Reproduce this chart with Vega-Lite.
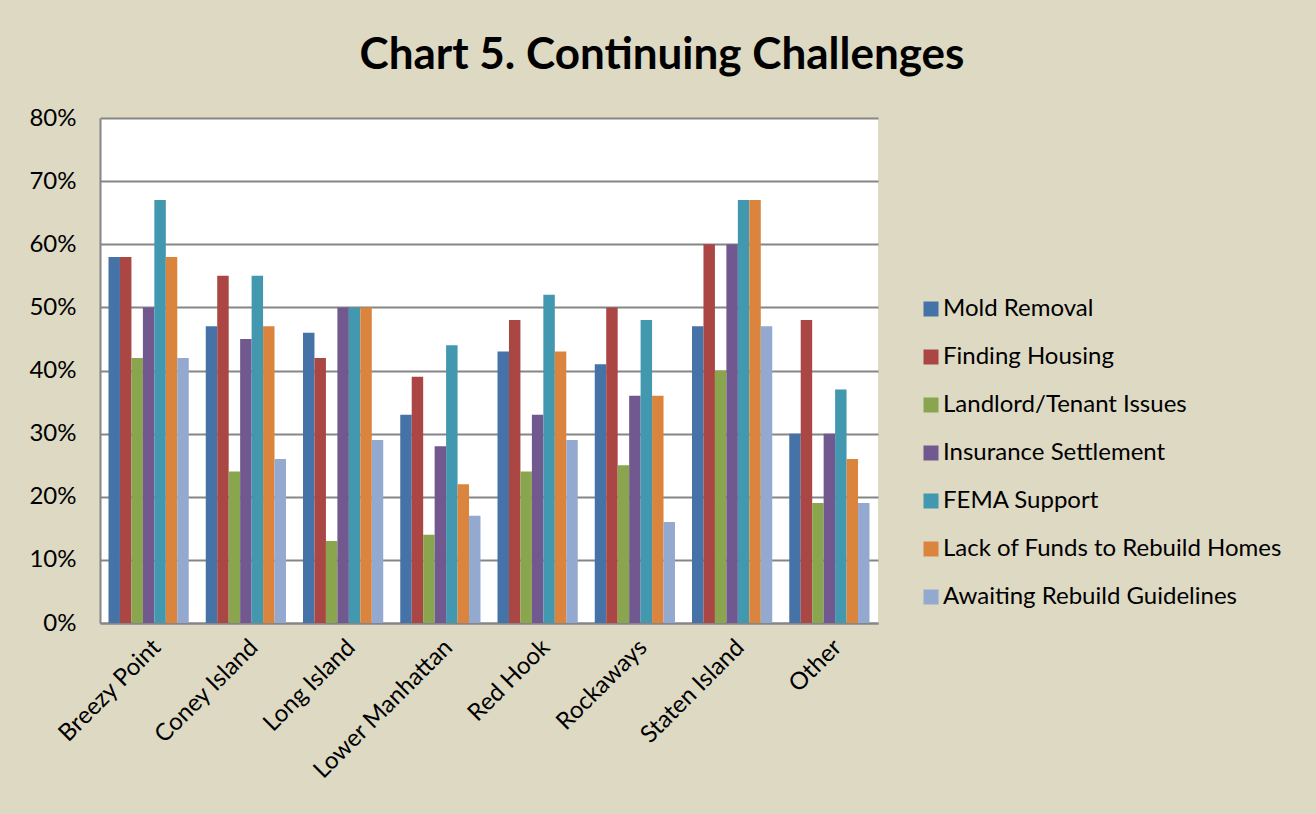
{
  "$schema": "https://vega.github.io/schema/vega-lite/v6.json",
  "autosize": {"type": "none"},
  "padding": {"left": 100, "top": 118, "right": 438, "bottom": 191},
  "width": 778,
  "height": 505,
  "background": "#DDD9C3",
  "title": {
    "text": "Chart 5. Continuing Challenges",
    "font": "Lato",
    "fontSize": 44,
    "fontWeight": "bold",
    "color": "#000000",
    "anchor": "middle",
    "dx": 173,
    "offset": 28
  },
  "config": {
    "view": {"fill": "#FFFFFF", "stroke": null},
    "font": "Lato"
  },
  "data": {
    "values": [
      {"location": "Breezy Point", "challenge": "Mold Removal", "value": 0.58},
      {"location": "Breezy Point", "challenge": "Finding Housing", "value": 0.58},
      {"location": "Breezy Point", "challenge": "Landlord/Tenant Issues", "value": 0.42},
      {"location": "Breezy Point", "challenge": "Insurance Settlement", "value": 0.50},
      {"location": "Breezy Point", "challenge": "FEMA Support", "value": 0.67},
      {"location": "Breezy Point", "challenge": "Lack of Funds to Rebuild Homes", "value": 0.58},
      {"location": "Breezy Point", "challenge": "Awaiting Rebuild Guidelines", "value": 0.42},
      {"location": "Coney Island", "challenge": "Mold Removal", "value": 0.47},
      {"location": "Coney Island", "challenge": "Finding Housing", "value": 0.55},
      {"location": "Coney Island", "challenge": "Landlord/Tenant Issues", "value": 0.24},
      {"location": "Coney Island", "challenge": "Insurance Settlement", "value": 0.45},
      {"location": "Coney Island", "challenge": "FEMA Support", "value": 0.55},
      {"location": "Coney Island", "challenge": "Lack of Funds to Rebuild Homes", "value": 0.47},
      {"location": "Coney Island", "challenge": "Awaiting Rebuild Guidelines", "value": 0.26},
      {"location": "Long Island", "challenge": "Mold Removal", "value": 0.46},
      {"location": "Long Island", "challenge": "Finding Housing", "value": 0.42},
      {"location": "Long Island", "challenge": "Landlord/Tenant Issues", "value": 0.13},
      {"location": "Long Island", "challenge": "Insurance Settlement", "value": 0.50},
      {"location": "Long Island", "challenge": "FEMA Support", "value": 0.50},
      {"location": "Long Island", "challenge": "Lack of Funds to Rebuild Homes", "value": 0.50},
      {"location": "Long Island", "challenge": "Awaiting Rebuild Guidelines", "value": 0.29},
      {"location": "Lower Manhattan", "challenge": "Mold Removal", "value": 0.33},
      {"location": "Lower Manhattan", "challenge": "Finding Housing", "value": 0.39},
      {"location": "Lower Manhattan", "challenge": "Landlord/Tenant Issues", "value": 0.14},
      {"location": "Lower Manhattan", "challenge": "Insurance Settlement", "value": 0.28},
      {"location": "Lower Manhattan", "challenge": "FEMA Support", "value": 0.44},
      {"location": "Lower Manhattan", "challenge": "Lack of Funds to Rebuild Homes", "value": 0.22},
      {"location": "Lower Manhattan", "challenge": "Awaiting Rebuild Guidelines", "value": 0.17},
      {"location": "Red Hook", "challenge": "Mold Removal", "value": 0.43},
      {"location": "Red Hook", "challenge": "Finding Housing", "value": 0.48},
      {"location": "Red Hook", "challenge": "Landlord/Tenant Issues", "value": 0.24},
      {"location": "Red Hook", "challenge": "Insurance Settlement", "value": 0.33},
      {"location": "Red Hook", "challenge": "FEMA Support", "value": 0.52},
      {"location": "Red Hook", "challenge": "Lack of Funds to Rebuild Homes", "value": 0.43},
      {"location": "Red Hook", "challenge": "Awaiting Rebuild Guidelines", "value": 0.29},
      {"location": "Rockaways", "challenge": "Mold Removal", "value": 0.41},
      {"location": "Rockaways", "challenge": "Finding Housing", "value": 0.50},
      {"location": "Rockaways", "challenge": "Landlord/Tenant Issues", "value": 0.25},
      {"location": "Rockaways", "challenge": "Insurance Settlement", "value": 0.36},
      {"location": "Rockaways", "challenge": "FEMA Support", "value": 0.48},
      {"location": "Rockaways", "challenge": "Lack of Funds to Rebuild Homes", "value": 0.36},
      {"location": "Rockaways", "challenge": "Awaiting Rebuild Guidelines", "value": 0.16},
      {"location": "Staten Island", "challenge": "Mold Removal", "value": 0.47},
      {"location": "Staten Island", "challenge": "Finding Housing", "value": 0.60},
      {"location": "Staten Island", "challenge": "Landlord/Tenant Issues", "value": 0.40},
      {"location": "Staten Island", "challenge": "Insurance Settlement", "value": 0.60},
      {"location": "Staten Island", "challenge": "FEMA Support", "value": 0.67},
      {"location": "Staten Island", "challenge": "Lack of Funds to Rebuild Homes", "value": 0.67},
      {"location": "Staten Island", "challenge": "Awaiting Rebuild Guidelines", "value": 0.47},
      {"location": "Other", "challenge": "Mold Removal", "value": 0.30},
      {"location": "Other", "challenge": "Finding Housing", "value": 0.48},
      {"location": "Other", "challenge": "Landlord/Tenant Issues", "value": 0.19},
      {"location": "Other", "challenge": "Insurance Settlement", "value": 0.30},
      {"location": "Other", "challenge": "FEMA Support", "value": 0.37},
      {"location": "Other", "challenge": "Lack of Funds to Rebuild Homes", "value": 0.26},
      {"location": "Other", "challenge": "Awaiting Rebuild Guidelines", "value": 0.19}
    ]
  },
  "mark": {"type": "bar"},
  "encoding": {
    "x": {
      "field": "location",
      "type": "nominal",
      "sort": ["Breezy Point", "Coney Island", "Long Island", "Lower Manhattan", "Red Hook", "Rockaways", "Staten Island", "Other"],
      "scale": {"paddingInner": 0.175, "paddingOuter": 0.0875},
      "axis": {
        "title": null,
        "labelAngle": -45,
        "labelAlign": "right",
        "labelBaseline": "top",
        "labelFont": "Lato",
        "labelFontSize": 24,
        "labelColor": "#000000",
        "labelPadding": 12,
        "labelLimit": 300,
        "ticks": false,
        "domainColor": "#868686",
        "domainWidth": 2,
        "grid": false
      }
    },
    "xOffset": {
      "field": "challenge",
      "type": "nominal",
      "sort": ["Mold Removal", "Finding Housing", "Landlord/Tenant Issues", "Insurance Settlement", "FEMA Support", "Lack of Funds to Rebuild Homes", "Awaiting Rebuild Guidelines"],
      "scale": {"paddingInner": 0, "paddingOuter": 0}
    },
    "y": {
      "field": "value",
      "type": "quantitative",
      "scale": {"domain": [0, 0.8], "nice": false},
      "axis": {
        "title": null,
        "format": ".0%",
        "values": [0, 0.1, 0.2, 0.3, 0.4, 0.5, 0.6, 0.7, 0.8],
        "labelFont": "Lato",
        "labelFontSize": 24,
        "labelColor": "#000000",
        "labelPadding": 24,
        "ticks": false,
        "domainColor": "#868686",
        "domainWidth": 2,
        "grid": true,
        "gridColor": "#868686",
        "gridWidth": 2
      }
    },
    "color": {
      "field": "challenge",
      "type": "nominal",
      "sort": ["Mold Removal", "Finding Housing", "Landlord/Tenant Issues", "Insurance Settlement", "FEMA Support", "Lack of Funds to Rebuild Homes", "Awaiting Rebuild Guidelines"],
      "scale": {
        "domain": ["Mold Removal", "Finding Housing", "Landlord/Tenant Issues", "Insurance Settlement", "FEMA Support", "Lack of Funds to Rebuild Homes", "Awaiting Rebuild Guidelines"],
        "range": ["#4572A7", "#AA4643", "#89A54E", "#71588F", "#4198AF", "#DB843D", "#93A9CF"]
      },
      "legend": {
        "title": null,
        "orient": "none",
        "legendX": 819,
        "legendY": 179,
        "symbolType": "square",
        "symbolSize": 225,
        "symbolStrokeWidth": 0,
        "labelFont": "Lato",
        "labelFontSize": 24,
        "labelColor": "#000000",
        "labelLimit": 400,
        "labelOffset": 0,
        "rowPadding": 24
      }
    }
  }
}
